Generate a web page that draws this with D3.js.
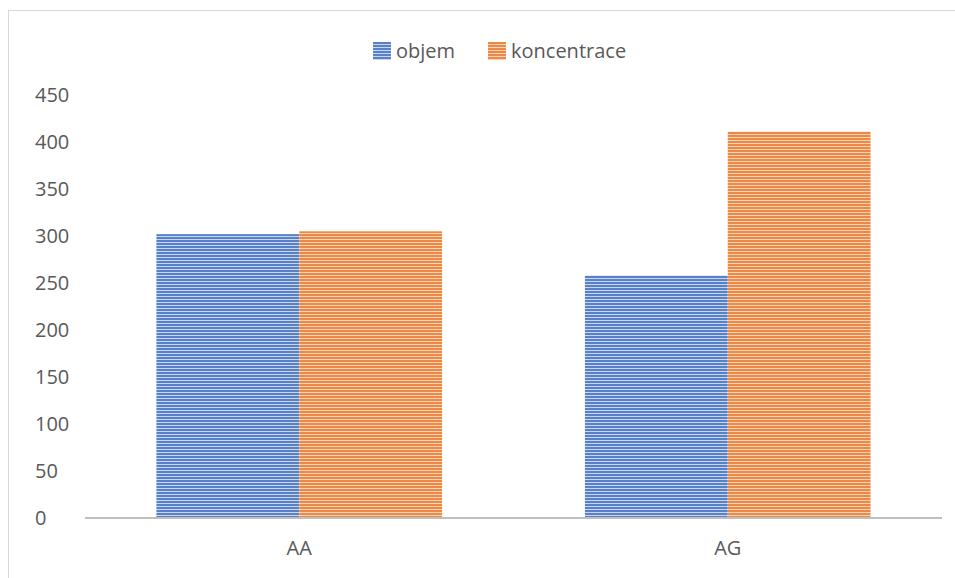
<!DOCTYPE html>
<html>
<head>
<meta charset="utf-8">
<script src="https://cdn.jsdelivr.net/npm/d3@7"></script>
<style>
  body { margin: 0; background: #fff; }
  svg text { font-family: "Open Sans", "Noto Sans", sans-serif; fill: #595959; }
</style>
</head>
<body>
<svg id="chart" width="955" height="578"></svg>
<script>
// data
var categories = ["AA", "AG"];
var seriesNames = ["objem", "koncentrace"];
var objem = [302, 258];
var koncentrace = [305, 411];
var yTicks = [0, 50, 100, 150, 200, 250, 300, 350, 400, 450];

var colors = {objem: "#4472c4", koncentrace: "#ed7d31"};
var lightColors = {objem: "#c9d6f0", koncentrace: "#f9d3b8"};

var svg = d3.select("#chart");

// outer chart border (only top & left visible)
svg.append("rect")
    .attr("x", 8.5).attr("y", 10.5)
    .attr("width", 1200).attr("height", 1200)
    .attr("fill", "none")
    .attr("stroke", "#d9d9d9");

// striped fills
var defs = svg.append("defs");
seriesNames.forEach(function(s) {
    var p = defs.append("pattern")
        .attr("id", "stripe-" + s)
        .attr("patternUnits", "userSpaceOnUse")
        .attr("width", 6).attr("height", 3);
    p.append("rect").attr("width", 6).attr("height", 3).attr("fill", lightColors[s]);
    p.append("rect").attr("width", 6).attr("height", 2).attr("fill", colors[s]).attr("opacity", 0.85);
});

var plotLeft = 85, plotRight = 942, plotTop = 95, plotBottom = 518;

var y = d3.scaleLinear().domain([0, 450]).range([plotBottom, plotTop]);

var x0 = d3.scaleBand().domain(categories).range([plotLeft, plotRight]).padding(0);
var x1 = d3.scaleBand().domain(seriesNames).range([0, x0.bandwidth()])
    .paddingInner(0).paddingOuter(0.5);

var values = {objem: objem, koncentrace: koncentrace};

// y tick labels (left aligned, no gridlines)
svg.append("g")
  .selectAll("text")
  .data(yTicks)
  .enter().append("text")
    .attr("x", 35)
    .attr("y", function(d) { return y(d); })
    .attr("dy", "0.35em")
    .attr("font-size", 20)
    .text(function(d) { return d; });

// bars
var group = svg.append("g")
  .selectAll("g")
  .data(categories)
  .enter().append("g")
    .attr("transform", function(d) { return "translate(" + x0(d) + ",0)"; });

group.selectAll("rect")
    .data(function(d, i) {
        return seriesNames.map(function(s) { return {key: s, value: values[s][i]}; });
    })
    .enter().append("rect")
    .attr("x", function(d) { return x1(d.key); })
    .attr("y", function(d) { return y(d.value); })
    .attr("width", x1.bandwidth())
    .attr("height", function(d) { return y(0) - y(d.value); })
    .attr("fill", function(d) { return "url(#stripe-" + d.key + ")"; });

// x axis line
svg.append("line")
    .attr("x1", plotLeft).attr("x2", plotRight)
    .attr("y1", y(0)).attr("y2", y(0))
    .attr("stroke", "#bfbfbf")
    .attr("stroke-width", 2);

// category labels
svg.append("g")
  .selectAll("text")
  .data(categories)
  .enter().append("text")
    .attr("x", function(d) { return x0(d) + x0.bandwidth() / 2; })
    .attr("y", 548)
    .attr("dy", "0.35em")
    .attr("text-anchor", "middle")
    .attr("font-size", 20)
    .text(function(d) { return d; });

// legend
var legendX = [373, 488];
var legend = svg.append("g")
  .selectAll("g")
  .data(seriesNames)
  .enter().append("g")
    .attr("transform", function(d, i) { return "translate(" + legendX[i] + ",42)"; });

legend.append("rect")
    .attr("width", 18).attr("height", 18)
    .attr("fill", function(d) { return "url(#stripe-" + d + ")"; });

legend.append("text")
    .attr("x", 23)
    .attr("y", 9)
    .attr("dy", "0.35em")
    .attr("font-size", 20)
    .text(function(d) { return d; });
</script>
</body>
</html>
